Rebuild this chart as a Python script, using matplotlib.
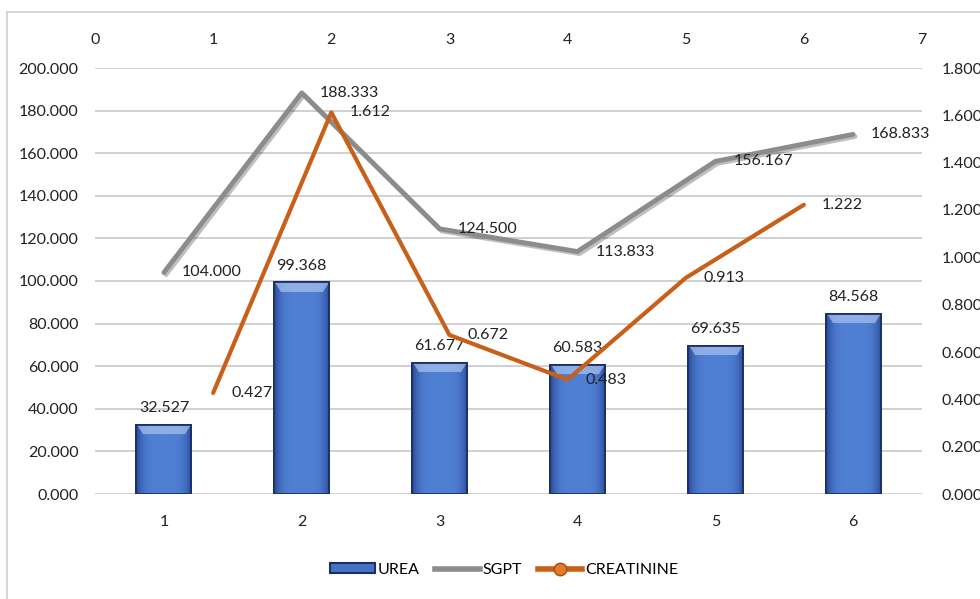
import numpy as np
import matplotlib
matplotlib.use('Agg')
import matplotlib.pyplot as plt
import matplotlib.patheffects as pe
from matplotlib.lines import Line2D
from matplotlib.patches import Rectangle

plt.rcParams['font.family'] = ['Lato', 'DejaVu Sans']

# data
categories = [1, 2, 3, 4, 5, 6]
urea = [32.527, 99.368, 61.677, 60.583, 69.635, 84.568]
sgpt = [104.000, 188.333, 124.500, 113.833, 156.167, 168.833]
creatinine = [0.427, 1.612, 0.672, 0.483, 0.913, 1.222]

BLUE = '#4472C4'
BLUE_DARK = '#1B2F63'
GRAY = '#8C8C8C'
ORANGE = '#C8601A'
GRID = '#C4C4C4'
FS = 11.5

W, H = 980, 599
fig = plt.figure(figsize=(W / 100, H / 100), dpi=100)

# outer chart border (partly cropped in the reference)
fig.add_artist(Line2D([7 / W, 1], [1 - 12 / H, 1 - 12 / H], color='#D0D0D0', lw=1.2))
fig.add_artist(Line2D([7 / W, 7 / W], [0, 1 - 12 / H], color='#D0D0D0', lw=1.2))

left, right, top, bottom = 95, 922, 68, 494
pos = [left / W, 1 - bottom / H, (right - left) / W, (bottom - top) / H]
ax = fig.add_axes(pos)
ax2 = fig.add_axes(pos, frameon=False)

# primary axes: bars + SGPT
ax.set_xlim(0.5, 6.5)
ax.set_ylim(0, 200)
ax.set_yticks(np.arange(0, 201, 20))
ax.set_yticklabels([f'{v:.3f}' for v in np.arange(0, 201, 20)])
ax.set_xticks(categories)
ax.grid(axis='y', color=GRID, lw=1.1)
ax.set_axisbelow(True)
for s in ax.spines.values():
    s.set_visible(False)
ax.tick_params(length=0, labelsize=FS, colors='#222222')
ax.tick_params(axis='y', pad=12)
ax.tick_params(axis='x', pad=15)

bw = 0.4
light = np.array(matplotlib.colors.to_rgb('#5080D4'))
dark = np.array(matplotlib.colors.to_rgb('#2A4A98'))
bevel = np.array(matplotlib.colors.to_rgb('#A8C3EE'))
bars = ax.bar(categories, urea, width=bw, color=BLUE, edgecolor=BLUE_DARK, lw=1.3, zorder=2)
for b, h in zip(bars, urea):
    x0 = b.get_x()
    ny, nx = max(int(h * 3), 10), 60
    xs = np.linspace(0, 1, nx)
    ys = np.linspace(0, h, ny)
    tx = np.abs(xs - 0.5) * 2
    row = light[None, :] * (1 - tx[:, None] ** 4) + dark[None, :] * tx[:, None] ** 4
    img = np.repeat(row[None, :, :], ny, axis=0)
    band = 4.5
    for i, yv in enumerate(ys):
        d = h - yv
        if d < band:
            inset = d / band * 0.12
            m = (xs > inset) & (xs < 1 - inset)
            img[i, m] = bevel * 0.7 + img[i, m] * 0.3
    im = ax.imshow(img, extent=[x0, x0 + bw, 0, h], origin='lower', aspect='auto', zorder=2.1)
    im.set_clip_path(b)
    ax.add_patch(Rectangle((x0, 0), bw, h, fill=False, ec=BLUE_DARK, lw=1.3, zorder=2.2))
ax.set_xlim(0.5, 6.5)
ax.set_ylim(0, 200)

for x, v in zip(categories, urea):
    ax.annotate(f'{v:.3f}', (x, v), xytext=(0, 7), textcoords='offset points',
                ha='center', va='bottom', fontsize=FS, color='#222222', zorder=5)

ax.plot(categories, sgpt, color=GRAY, lw=3.5, solid_capstyle='round', zorder=3,
        path_effects=[pe.SimpleLineShadow(offset=(1.5, -1.5), alpha=0.25), pe.Normal()])
for x, v in zip(categories, sgpt):
    ax.annotate(f'{v:.3f}', (x, v), xytext=(13, 0), textcoords='offset points',
                ha='left', va='center', fontsize=FS, color='#222222', zorder=5)

# secondary axes: creatinine on top/right
ax2.set_xlim(0, 7)
ax2.set_ylim(0, 1.8)
ax2.xaxis.tick_top()
ax2.yaxis.tick_right()
ax2.set_xticks(range(0, 8))
ax2.set_yticks(np.arange(0, 1.81, 0.2))
ax2.set_yticklabels([f'{v:.3f}' for v in np.arange(0, 1.81, 0.2)])
ax2.tick_params(length=0, labelsize=FS, colors='#222222')
ax2.tick_params(axis='x', pad=15)
ax2.tick_params(axis='y', pad=14)
ax2.patch.set_visible(False)

cx = list(range(1, len(creatinine) + 1))
ax2.plot(cx, creatinine, color=ORANGE, lw=3, solid_capstyle='round', zorder=4)
for x, v in zip(cx, creatinine):
    ax2.annotate(f'{v:.3f}', (x, v), xytext=(13, 0), textcoords='offset points',
                 ha='left', va='center', fontsize=FS, color='#222222', zorder=5)

handles = [
    Rectangle((0, 0), 1, 1, fc=BLUE, ec=BLUE_DARK, lw=1.5),
    Line2D([], [], color=GRAY, lw=4),
    Line2D([], [], color=ORANGE, lw=4, marker='o', ms=9, mfc='#E07B2A', mec='#A84A10'),
]
fig.legend(handles, ['UREA', 'SGPT', 'CREATININE'], loc='center', bbox_to_anchor=(504 / W, 1 - 570 / H),
           ncol=3, frameon=False, fontsize=FS, handlelength=2.8, handleheight=0.6,
           handletextpad=0.15, columnspacing=1.0)

fig.savefig('out.png', dpi=100)
